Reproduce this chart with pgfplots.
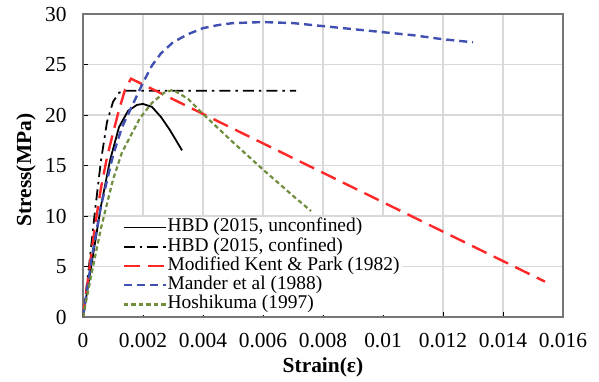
\documentclass[border=0pt]{standalone}
\usepackage{fontspec}
\setmainfont{Liberation Serif}
\usepackage{pgfplots}
\pgfplotsset{compat=1.18}
\definecolor{kred}{RGB}{255,40,40}
\definecolor{mblue}{RGB}{64,80,176}
\definecolor{hgreen}{RGB}{112,142,62}
\definecolor{gridgray}{RGB}{217,217,217}
\definecolor{framegray}{RGB}{118,118,118}
\begin{document}
\begin{tikzpicture}
\begin{axis}[
  scale only axis, width=480bp, height=303bp,
  xmin=0, xmax=0.016, ymin=0, ymax=30,
  xtick={0,0.002,0.004,0.006,0.008,0.01,0.012,0.014,0.016},
  xticklabels={0,0.002,0.004,0.006,0.008,0.01,0.012,0.014,0.016},
  ytick={0,5,10,15,20,25,30},
  scaled x ticks=false,
  grid=major, major grid style={gridgray, line width=1.3bp},
  axis line style={framegray, line width=1.5bp},
  tick align=inside, tick pos=left, major tick length=5bp,
  tick style={black, line width=0.9bp},
  /pgf/number format/assume math mode=true,
  tick label style={font=\fontsize{21.5}{24}\selectfont},
  xticklabel style={yshift=-13bp},
  yticklabel style={xshift=-13bp},
  xlabel={\textbf{Strain(ε)}}, ylabel={\textbf{Stress(MPa)}},
  label style={font=\fontsize{21.5}{24}\selectfont},
  xlabel style={at={(axis description cs:0.5,-0.1848)}, anchor=base},
  ylabel style={at={(axis description cs:-0.119,0.485)}, anchor=center},
  legend image code/.code={\draw[#1] (0bp,0bp) -- (42bp,0bp);},
  legend cell align=left,
  legend style={at={(axis description cs:0.078,0.006)}, anchor=south west,
    draw=none, fill=white, inner xsep=2bp, inner ysep=1bp,
    row sep=0.25bp,
    font=\fontsize{19.5}{21}\selectfont,
    nodes={inner sep=0.5bp, text height=13.5bp, text depth=4.5bp}},
]
\addplot[black, line width=1.8bp] coordinates {
(0,0) (0.0003,5.5) (0.0006,11) (0.0009,15.5) (0.0012,18.8) (0.0015,20.4)
(0.0018,21) (0.002,21.1) (0.0023,20.8) (0.0026,19.8) (0.0029,18.5) (0.0033,16.5)};
\addlegendentry{HBD (2015, unconfined)}
\addplot[black, line width=1.8bp, dash pattern=on 11bp off 5bp on 2.5bp off 5bp] coordinates {
(0,0) (0.0002,5) (0.0004,10.5) (0.0006,15.5) (0.0008,19.3) (0.001,21.3)
(0.0012,22.2) (0.0014,22.4) (0.0071,22.4)};
\addlegendentry{HBD (2015, confined)}
\addplot[kred, line width=2.4bp, dash pattern=on 16bp off 8bp] coordinates {
(0,0) (0.0002,4.5) (0.0004,9) (0.0006,12.8) (0.0008,15.8) (0.001,18.2)
(0.0012,20.5) (0.0014,22.5) (0.0016,23.6) (0.0154,3.5)};
\addlegendentry{Modified Kent \& Park (1982)}
\addplot[mblue, line width=2.4bp, dash pattern=on 8bp off 5bp] coordinates {
(0,0) (0.0003,6) (0.0006,11) (0.001,16) (0.0013,18.8) (0.0017,21.3)
(0.002,23.2) (0.0023,24.9) (0.0026,26.1) (0.003,27.2) (0.0035,28) (0.004,28.6)
(0.0045,28.9) (0.005,29.1) (0.006,29.2) (0.007,29.1) (0.008,28.8)
(0.009,28.5) (0.01,28.2) (0.011,27.9) (0.012,27.5) (0.013,27.2)};
\addlegendentry{Mander et al (1988)}
\addplot[hgreen, line width=2.2bp, dash pattern=on 4.5bp off 3bp] coordinates {
(0,0) (0.0003,4.5) (0.0006,8.8) (0.001,13.6) (0.0013,16.3) (0.0016,18)
(0.0019,19.7) (0.0023,21.2) (0.0027,22.2) (0.003,22.5) (0.0035,21.6)
(0.004,20.1) (0.005,17.3) (0.006,14.6) (0.007,12) (0.0076,10.5)};
\addlegendentry{Hoshikuma (1997)}
\end{axis}
\path (current axis.south west) ++(-83bp,-65bp) rectangle ++(599bp,382bp);
\end{tikzpicture}
\end{document}
